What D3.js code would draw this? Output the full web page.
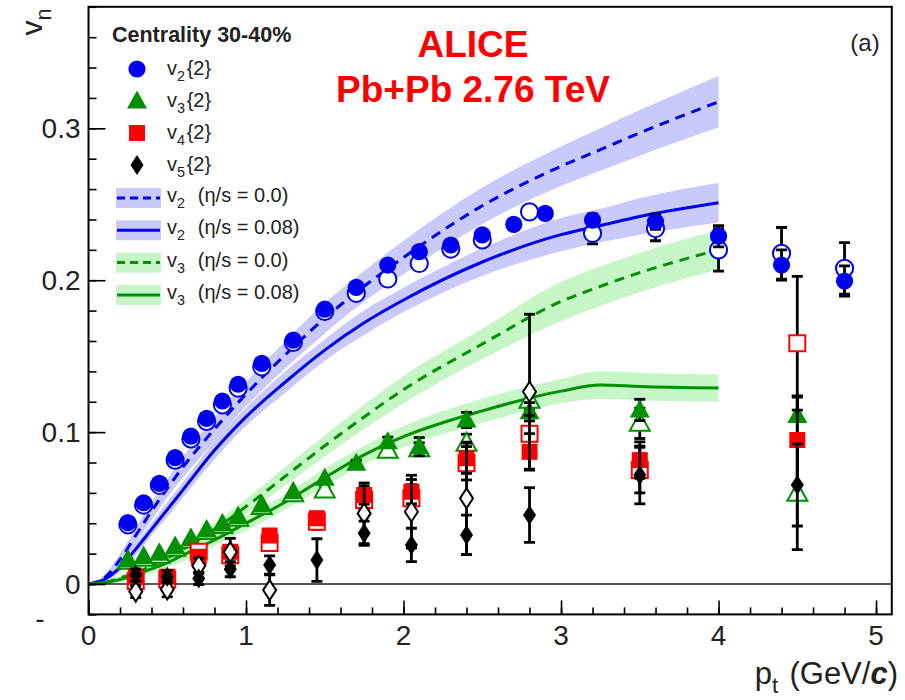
<!DOCTYPE html>
<html>
<head>
<meta charset="utf-8">
<script src="https://cdn.jsdelivr.net/npm/d3@7"></script>
<style>
  body { margin: 0; background: #fff; }
  svg { font-family: "Liberation Sans", Arial, Helvetica, sans-serif; }
</style>
</head>
<body>
<script>
//data: measured points (pt, value, error)
const v2Pt   = [0.25,0.35,0.45,0.55,0.65,0.75,0.85,0.95,1.1,1.3,1.5,1.7,1.9,2.1,2.3,2.5,2.7,2.9,3.2,3.6,4.0,4.4,4.8]
const v2Val  = [0.0404,0.0535,0.0663,0.0832,0.0974,0.109,0.1205,0.1315,0.1453,0.1606,0.181,0.1953,0.210,0.2188,0.2232,0.2298,0.2368,0.244,0.2396,0.2385,0.229,0.210,0.1995]
const v2Err  = [0.001,0.001,0.001,0.001,0.001,0.001,0.001,0.001,0.001,0.001,0.001,0.001,0.001,0.001,0.001,0.001,0.002,0.002,0.004,0.005,0.007,0.010,0.010]

const v2oPt  = [0.25,0.35,0.45,0.55,0.65,0.75,0.85,0.95,1.1,1.3,1.5,1.7,1.9,2.1,2.3,2.5,2.8,3.2,3.6,4.0,4.4,4.8]
const v2oVal = [0.039,0.052,0.065,0.0815,0.0955,0.107,0.118,0.129,0.143,0.159,0.1795,0.1914,0.2008,0.211,0.2205,0.2265,0.245,0.2309,0.234,0.220,0.2177,0.2078]
const v2oErr = [0.001,0.001,0.001,0.001,0.001,0.001,0.001,0.001,0.001,0.001,0.001,0.001,0.001,0.001,0.002,0.002,0.002,0.007,0.008,0.014,0.017,0.017]

const v3Pt   = [0.25,0.35,0.45,0.55,0.65,0.75,0.85,0.95,1.1,1.3,1.5,1.7,1.9,2.1,2.4,2.8,3.5,4.5]
const v3Val  = [0.0158,0.018,0.0202,0.0246,0.030,0.0355,0.0395,0.0443,0.052,0.0608,0.0696,0.0795,0.0937,0.0904,0.108,0.1134,0.1146,0.111]
const v3Err  = [0.001,0.001,0.001,0.001,0.001,0.001,0.001,0.001,0.001,0.001,0.001,0.002,0.003,0.006,0.005,0.006,0.007,0.012]

const v3oPt  = [0.25,0.35,0.45,0.55,0.65,0.75,0.85,0.95,1.1,1.3,1.5,1.9,2.1,2.4,2.8,3.5,4.5]
const v3oVal = [0.015,0.017,0.019,0.0236,0.029,0.0345,0.0385,0.0433,0.051,0.0595,0.0619,0.088,0.089,0.0926,0.121,0.1058,0.0597]
const v3oErr = [0.001,0.001,0.001,0.001,0.001,0.001,0.001,0.001,0.001,0.001,0.002,0.003,0.004,0.006,0.006,0.010,0.037]

const v4Pt   = [0.3,0.5,0.7,0.9,1.15,1.45,1.75,2.05,2.4,2.8,3.5,4.5]
const v4Val  = [0.0048,0.0048,0.018,0.0213,0.032,0.0433,0.0586,0.0608,0.0828,0.087,0.0816,0.0948]
const v4Err  = [0.003,0.003,0.003,0.004,0.004,0.004,0.006,0.008,0.010,0.012,0.012,0.029]

const v4oPt  = [0.3,0.5,0.7,0.9,1.15,1.45,1.75,2.05,2.4,2.8,3.5,4.5]
const v4oVal = [0.002,0.003,0.0213,0.019,0.027,0.041,0.0553,0.0564,0.0795,0.099,0.075,0.1585]
const v4oErr = [0.003,0.003,0.003,0.004,0.004,0.005,0.007,0.009,0.011,0.012,0.015,0.044]

const v5Pt   = [0.3,0.5,0.7,0.9,1.15,1.45,1.75,2.05,2.4,2.8,3.5,4.5]
const v5Val  = [0.0059,0.0048,0.0037,0.0098,0.0125,0.0158,0.0334,0.0257,0.0323,0.0454,0.0718,0.0652]
const v5Err  = [0.004,0.004,0.004,0.005,0.006,0.014,0.008,0.011,0.013,0.018,0.019,0.027]

const v5oPt  = [0.3,0.5,0.7,0.9,1.15,1.75,2.05,2.4,2.8]
const v5oVal = [-0.005,-0.0035,0.012,0.021,-0.004,0.0465,0.0476,0.0564,0.1266]
const v5oErr = [0.004,0.005,0.005,0.009,0.010,0.020,0.024,0.037,0.051]

//data: hydro calculations (pt grid, value, band half width)
const thPt        = [0,0.1,0.2,0.3,0.4,0.5,0.6,0.8,1.0,1.25,1.5,1.75,2.0,2.5,3.0,3.25,3.5,4.0]
const v2IdealVal  = [0,0.004,0.016,0.032,0.048,0.063,0.077,0.102,0.125,0.151,0.175,0.196,0.215,0.249,0.275,0.286,0.297,0.3175]
const v2IdealBand = [0,0.002,0.004,0.005,0.006,0.006,0.007,0.008,0.008,0.009,0.010,0.010,0.011,0.012,0.013,0.014,0.015,0.017]
const v2ViscVal   = [0,0.003,0.011,0.023,0.036,0.049,0.062,0.088,0.110,0.133,0.154,0.172,0.187,0.212,0.230,0.236,0.242,0.251]
const v2ViscBand  = [0,0.002,0.003,0.004,0.004,0.005,0.005,0.006,0.006,0.007,0.007,0.008,0.008,0.009,0.011,0.011,0.012,0.013]
const v3IdealVal  = [0,0.001,0.004,0.007,0.012,0.017,0.023,0.036,0.051,0.071,0.091,0.110,0.128,0.158,0.186,0.196,0.205,0.220]
const v3IdealBand = [0,0.001,0.002,0.002,0.003,0.003,0.004,0.004,0.005,0.006,0.007,0.008,0.009,0.010,0.013,0.013,0.013,0.013]
const v3ViscVal   = [0,0.001,0.003,0.006,0.010,0.014,0.019,0.029,0.040,0.054,0.070,0.085,0.097,0.114,0.127,0.131,0.130,0.129]
const v3ViscBand  = [0,0.001,0.002,0.002,0.003,0.003,0.004,0.004,0.005,0.005,0.006,0.006,0.007,0.008,0.008,0.009,0.009,0.009]

//ticks
const xTicks = [0,1,2,3,4,5]
const yTicks = [0,0.1,0.2,0.3]

//consts
const
  width = 905,
  height = 700,
  plotLeft = 88.5,
  plotRight = 891.8,
  plotTop = 6.8,
  plotBottom = 614.4,
  blue = '#0000f0',
  green = '#009000',
  red = '#ff0000',
  blueBand = '#c9c9fb',
  greenBand = '#c6f5c6',
  font = 28,
  legendFont = 20

const x = d3.scaleLinear().domain([0, 5.1]).range([plotLeft, plotRight])
const y = d3.scaleLinear().domain([-0.02, 0.38]).range([plotBottom, plotTop])

const svg = d3.select('body').append('svg')
  .attr('width', width)
  .attr('height', height)

svg.append('defs').append('clipPath').attr('id', 'plot')
  .append('rect')
  .attr('x', plotLeft).attr('y', plotTop)
  .attr('width', plotRight - plotLeft).attr('height', plotBottom - plotTop)

//helpers
const zip = (p, v, e) => p.map((d, i) => ({p: d, v: v[i], e: e[i]}))

//marker shapes, centered at 0,0
const shapes = {
  circle: 'M8.6,0A8.6,8.6 0 1,1 -8.6,0A8.6,8.6 0 1,1 8.6,0Z',
  triangle: 'M0,-10.5L10,7.5L-10,7.5Z',
  square: 'M-8,-8H8V8H-8Z',
  diamond: 'M0,-10L6.5,0L0,10L-6.5,0Z'
}

//text with subscripts: parts are [text, isSub]
function richText(sel, parts, size) {
  parts.forEach(([t, sub]) => {
    sel.append('tspan')
      .attr('font-size', sub ? size * 0.72 : size)
      .attr('dy', sub ? size * 0.3 : null)
      .text(t)
    if (sub) sel.append('tspan').attr('font-size', size).attr('dy', -size * 0.3).text('\u200a')
  })
  return sel
}

let plot = svg.append('g').attr('clip-path', 'url(#plot)')

//bands and curves
const area = d3.area()
  .x(d => x(d.p))
  .y0(d => y(d.v - d.e))
  .y1(d => y(d.v + d.e))
  .curve(d3.curveMonotoneX)
const line = d3.line()
  .x(d => x(d.p))
  .y(d => y(d.v))
  .curve(d3.curveMonotoneX)

const theory = [
  {v: v2IdealVal, e: v2IdealBand, band: blueBand, color: blue, dash: '10,7'},
  {v: v2ViscVal, e: v2ViscBand, band: blueBand, color: blue, dash: null},
  {v: v3IdealVal, e: v3IdealBand, band: greenBand, color: green, dash: '10,7'},
  {v: v3ViscVal, e: v3ViscBand, band: greenBand, color: green, dash: null}
]
theory.forEach(t => {
  plot.append('path')
    .attr('d', area(zip(thPt, t.v, t.e)))
    .attr('fill', t.band)
})
theory.forEach(t => {
  plot.append('path')
    .attr('d', line(zip(thPt, t.v, t.e)))
    .attr('fill', 'none')
    .attr('stroke', t.color)
    .attr('stroke-width', 3)
    .attr('stroke-dasharray', t.dash)
})

//zero line
plot.append('line')
  .attr('x1', plotLeft).attr('x2', plotRight)
  .attr('y1', y(0)).attr('y2', y(0))
  .attr('stroke', '#222').attr('stroke-width', 1.6)

//data points
const series = [
  {d: zip(v2oPt, v2oVal, v2oErr), shape: 'circle', color: blue, open: true},
  {d: zip(v2Pt, v2Val, v2Err), shape: 'circle', color: blue},
  {d: zip(v3oPt, v3oVal, v3oErr), shape: 'triangle', color: green, open: true},
  {d: zip(v3Pt, v3Val, v3Err), shape: 'triangle', color: green},
  {d: zip(v4oPt, v4oVal, v4oErr), shape: 'square', color: red, open: true},
  {d: zip(v4Pt, v4Val, v4Err), shape: 'square', color: red},
  {d: zip(v5oPt, v5oVal, v5oErr), shape: 'diamond', color: '#000', open: true},
  {d: zip(v5Pt, v5Val, v5Err), shape: 'diamond', color: '#000'}
]
series.forEach(s => {
  let g = plot.append('g')
  let bar = g.selectAll(null).data(s.d.filter(d => y(d.v - d.e) - y(d.v + d.e) > 4))
    .enter().append('g')
    .attr('stroke', '#000').attr('stroke-width', 2.8)
  bar.append('line')
    .attr('x1', d => x(d.p)).attr('x2', d => x(d.p))
    .attr('y1', d => y(d.v + d.e)).attr('y2', d => y(d.v - d.e))
  bar.append('line')
    .attr('x1', d => x(d.p) - 5.5).attr('x2', d => x(d.p) + 5.5)
    .attr('y1', d => y(d.v + d.e)).attr('y2', d => y(d.v + d.e))
  bar.append('line')
    .attr('x1', d => x(d.p) - 5.5).attr('x2', d => x(d.p) + 5.5)
    .attr('y1', d => y(d.v - d.e)).attr('y2', d => y(d.v - d.e))
  g.selectAll(null).data(s.d).enter().append('path')
    .attr('d', shapes[s.shape])
    .attr('transform', d => 'translate(' + [x(d.p), y(d.v)] + ')')
    .attr('fill', s.open ? '#fff' : s.color)
    .attr('stroke', s.color)
    .attr('stroke-width', s.open ? 2 : 0)
})

//frame
svg.append('rect')
  .attr('x', plotLeft).attr('y', plotTop)
  .attr('width', plotRight - plotLeft).attr('height', plotBottom - plotTop)
  .attr('fill', 'none').attr('stroke', '#000').attr('stroke-width', 2)

//axes ticks (inside)
const yAxis = d3.axisRight(y)
  .tickValues(d3.range(-0.02, 0.381, 0.02))
  .tickSize(8).tickFormat('')
svg.append('g').attr('transform', 'translate(' + plotLeft + ',0)').call(yAxis)
  .call(g => g.select('.domain').remove())
  .call(g => g.selectAll('line').attr('stroke-width', 1.6))
svg.append('g').attr('transform', 'translate(' + plotLeft + ',0)')
  .call(d3.axisRight(y).tickValues(yTicks).tickSize(17).tickFormat(''))
  .call(g => g.select('.domain').remove())
  .call(g => g.selectAll('line').attr('stroke-width', 1.6))
const xAxis = d3.axisTop(x)
  .tickValues(d3.range(0, 5.01, 0.2))
  .tickSize(7).tickFormat('')
svg.append('g').attr('transform', 'translate(0,' + plotBottom + ')').call(xAxis)
  .call(g => g.select('.domain').remove())
  .call(g => g.selectAll('line').attr('stroke-width', 1.6))
svg.append('g').attr('transform', 'translate(0,' + plotBottom + ')')
  .call(d3.axisTop(x).tickValues(xTicks).tickSize(14).tickFormat(''))
  .call(g => g.select('.domain').remove())
  .call(g => g.selectAll('line').attr('stroke-width', 1.6))

//tick labels
svg.append('g').selectAll(null).data(yTicks).enter().append('text')
  .attr('x', plotLeft - 8).attr('y', d => y(d) + 10)
  .attr('text-anchor', 'end').attr('font-size', font).attr('fill', '#222')
  .text(d => d === 0 ? '0' : d3.format('.1f')(d))
svg.append('text')
  .attr('x', 40).attr('y', 628).attr('font-size', font).attr('fill', '#222')
  .attr('text-anchor', 'middle').text('-')
svg.append('g').selectAll(null).data(xTicks).enter().append('text')
  .attr('x', d => x(d)).attr('y', 645)
  .attr('text-anchor', 'middle').attr('font-size', font).attr('fill', '#222')
  .text(d => d)

//axis titles
let yt = svg.append('text')
  .attr('transform', 'translate(42,6) rotate(-90)')
  .attr('text-anchor', 'end').attr('font-size', 30).attr('fill', '#222')
richText(yt, [['v', false], ['n', true]], 30)

let xt = svg.append('text')
  .attr('x', 898).attr('y', 684)
  .attr('text-anchor', 'end').attr('font-size', 31).attr('fill', '#222')
richText(xt, [['p', false], ['t', true], [' (GeV/', false]], 31)
xt.append('tspan').attr('font-weight', 'bold').attr('font-style', 'italic').text('c')
xt.append('tspan').text(')')

//titles
svg.append('text')
  .attr('x', 473).attr('y', 57)
  .attr('text-anchor', 'middle').attr('font-size', 37).attr('font-weight', 'bold')
  .attr('fill', red).text('ALICE')
svg.append('text')
  .attr('x', 473).attr('y', 102)
  .attr('text-anchor', 'middle').attr('font-size', 37).attr('font-weight', 'bold')
  .attr('fill', red).text('Pb+Pb 2.76 TeV')
svg.append('text')
  .attr('x', 865).attr('y', 51)
  .attr('text-anchor', 'middle').attr('font-size', 24).attr('fill', '#222')
  .text('(a)')

//legend
let legend = svg.append('g')
legend.append('text')
  .attr('x', 112).attr('y', 42)
  .attr('font-size', 21.5).attr('font-weight', 'bold').attr('fill', '#222')
  .text('Centrality 30-40%')

const markerRows = [
  {shape: 'circle', color: blue, label: [['v', false], ['2', true], ['{2}', false]]},
  {shape: 'triangle', color: green, label: [['v', false], ['3', true], ['{2}', false]]},
  {shape: 'square', color: red, label: [['v', false], ['4', true], ['{2}', false]]},
  {shape: 'diamond', color: '#000', label: [['v', false], ['5', true], ['{2}', false]]}
]
markerRows.forEach((r, i) => {
  let cy = 69 + i * 32
  legend.append('path')
    .attr('d', shapes[r.shape])
    .attr('transform', 'translate(' + [137, cy] + ')')
    .attr('fill', r.color)
  richText(legend.append('text')
    .attr('x', 167).attr('y', cy + 6)
    .attr('font-size', legendFont).attr('fill', '#222'), r.label, legendFont)
})

const lineRows = [
  {band: blueBand, color: blue, dash: '8,5', label: [['v', false], ['2', true], ['  (\u03b7/s = 0.0)', false]]},
  {band: blueBand, color: blue, dash: null, label: [['v', false], ['2', true], ['  (\u03b7/s = 0.08)', false]]},
  {band: greenBand, color: green, dash: '8,5', label: [['v', false], ['3', true], ['  (\u03b7/s = 0.0)', false]]},
  {band: greenBand, color: green, dash: null, label: [['v', false], ['3', true], ['  (\u03b7/s = 0.08)', false]]}
]
lineRows.forEach((r, i) => {
  let cy = 198 + i * 32.3
  legend.append('rect')
    .attr('x', 116).attr('y', cy - 10)
    .attr('width', 45).attr('height', 20)
    .attr('fill', r.band)
  legend.append('line')
    .attr('x1', 117).attr('x2', 160)
    .attr('y1', cy).attr('y2', cy)
    .attr('stroke', r.color).attr('stroke-width', 3)
    .attr('stroke-dasharray', r.dash)
  richText(legend.append('text')
    .attr('x', 167).attr('y', cy + 4)
    .attr('font-size', legendFont).attr('fill', '#222')
    .style('white-space', 'pre'), r.label, legendFont)
})
</script>
</body>
</html>
